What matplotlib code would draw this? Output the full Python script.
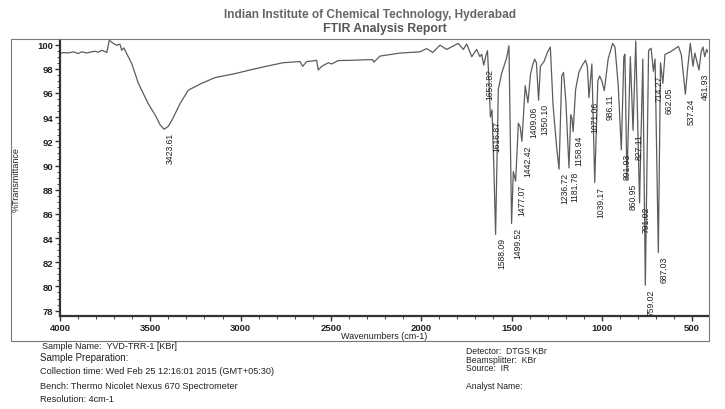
import matplotlib
matplotlib.use("Agg")
import matplotlib.pyplot as plt
from matplotlib.patches import Rectangle
from matplotlib.ticker import MultipleLocator

# ---------------- spectrum ----------------
wavenumber = [
    4000, 3982, 3954, 3926, 3899, 3880, 3852, 3825, 3806, 3788, 3769, 3751, 3741,
    3727, 3705, 3686, 3668, 3658, 3646, 3631, 3603, 3566, 3511, 3470, 3445, 3423.61,
    3400, 3375, 3336, 3290, 3215, 3142, 3031, 2948, 2860, 2765, 2671, 2656, 2634, 2600,
    2579, 2570, 2551, 2514, 2496, 2459, 2394, 2300, 2268, 2262, 2228, 2117, 2007,
    1970, 1936, 1896, 1859, 1795, 1767, 1748, 1720, 1693, 1675, 1665, 1653.82,
    1640, 1633, 1625, 1616.87, 1608, 1598, 1588.09, 1573, 1555, 1527, 1514,
    1499.52, 1490, 1477.07, 1462, 1452, 1442.42, 1424, 1409.06, 1395, 1385, 1372,
    1362, 1350.10, 1340, 1320, 1300, 1285, 1270, 1250, 1236.72, 1222, 1212, 1199,
    1181.78, 1172, 1165, 1158.94, 1145, 1127, 1108, 1090, 1080, 1071.06, 1055,
    1039.17, 1022, 1012, 1000, 986.11, 965, 950, 940, 927, 909, 891.93, 878, 872,
    860.95, 842, 827.11, 812, 791.02, 773, 759.02, 741, 727, 714.27, 705, 687.03,
    675, 662.05, 650, 620, 600, 576, 560, 537.24, 525, 510, 495, 485, 461.93, 450,
    440, 430, 420, 410,
]
transmittance = [
    99.25, 99.34, 99.31, 99.40, 99.26, 99.40, 99.31, 99.40, 99.45, 99.37, 99.53, 99.42, 99.34,
    100.36, 100.10, 99.95, 100.03, 99.53, 99.73, 99.26, 98.43, 96.80, 95.10, 94.10, 93.35, 93.00,
    93.25, 93.90, 95.10, 96.23, 96.80, 97.27, 97.60, 97.90, 98.20, 98.50, 98.60, 98.20, 98.60, 98.65,
    98.70, 97.90, 98.20, 98.50, 98.40, 98.68, 98.70, 98.75, 98.75, 98.55, 99.05, 99.30, 99.40,
    99.67, 99.35, 99.95, 99.60, 100.10, 99.60, 100.05, 99.00, 99.60, 99.00, 99.20, 98.30,
    99.20, 99.50, 97.00, 94.00, 94.60, 90.00, 84.30, 96.30, 97.60, 98.90, 99.90,
    85.20, 89.50, 88.70, 93.50, 93.20, 92.00, 96.60, 95.20, 97.50, 98.20, 98.80,
    98.50, 95.40, 98.20, 98.60, 99.40, 99.80, 95.00, 91.50, 89.70, 97.40, 97.70, 95.30,
    89.80, 94.20, 93.90, 92.80, 96.30, 97.70, 98.30, 98.70, 98.20, 95.60, 98.40,
    88.60, 97.00, 97.40, 97.00, 96.20, 98.80, 99.60, 100.10, 99.80, 96.60, 91.30, 99.00, 99.20,
    88.80, 99.00, 92.90, 100.30, 86.90, 98.80, 80.10, 99.50, 99.70, 97.80, 98.80, 82.80,
    98.50, 96.80, 99.20, 99.40, 99.60, 99.85, 99.20, 95.90, 98.00, 100.10, 98.20, 99.30, 97.90, 99.40,
    99.80, 99.00, 99.60, 99.30,
]

# labelled band positions (cm-1)
peak_wn = [
    3423.61, 1653.82, 1616.87, 1588.09, 1499.52, 1477.07, 1442.42, 1409.06,
    1350.10, 1236.72, 1181.78, 1158.94, 1071.06, 1039.17, 986.11, 891.93,
    860.95, 827.11, 791.02, 759.02, 714.27, 687.03, 662.05, 537.24, 461.93,
]

x_ticks = [4000, 3500, 3000, 2500, 2000, 1500, 1000, 500]
y_ticks = list(range(78, 101, 2))

header = ["Indian Institute of Chemical Technology, Hyderabad", "FTIR Analysis Report"]
info_left = [
    ("Sample Name:  YVD-TRR-1 [KBr]", 42, 347, 6.5),
    ("Sample Preparation:", 40, 358, 7.0),
    ("Collection time: Wed Feb 25 12:16:01 2015 (GMT+05:30)", 40, 372, 6.6),
    ("Bench: Thermo Nicolet Nexus 670 Spectrometer", 40, 387, 6.6),
    ("Resolution: 4cm-1", 40, 400, 6.6),
]
info_right = [
    ("Detector:  DTGS KBr", 466, 352),
    ("Beamsplitter:  KBr", 466, 360.5),
    ("Source:  IR", 466, 369),
    ("Analyst Name:", 466, 387),
]

plt.rcParams['font.family'] = ['Liberation Sans', 'DejaVu Sans']

W, H = 725, 410
fig = plt.figure(figsize=(W / 100, H / 100), dpi=100)
fig.patch.set_facecolor("white")

# axes box in pixel terms of the page
ax = fig.add_axes([60 / W, 1 - 316.7 / H, (708 - 60) / W, (316.7 - 41) / H])
ax.plot(wavenumber, transmittance, color="#5c5c5c", lw=0.9)
ax.set_xlim(4000, 412)
ax.set_ylim(77.58, 100.38)

ax.set_xticks(x_ticks)
ax.set_yticks(y_ticks)
ax.xaxis.set_minor_locator(MultipleLocator(100))
ax.yaxis.set_minor_locator(MultipleLocator(0.5))
ax.tick_params(which="major", direction="out", length=3.5, width=1, color="#333",
               labelsize=6.8, labelcolor="#222", pad=1.5)
ax.tick_params(which="minor", direction="out", length=2, width=0.7, color="#444")
for lab in ax.get_xticklabels() + ax.get_yticklabels():
    lab.set_fontweight("bold")

for s in ["top", "right"]:
    ax.spines[s].set_visible(False)
for s in ["left", "bottom"]:
    ax.spines[s].set_linewidth(1.6)
    ax.spines[s].set_color("#333")

# band labels
lookup = dict(zip(wavenumber, transmittance))
for w in peak_wn:
    ax.annotate(f"{w:.2f}", xy=(w, lookup[w]), xytext=(1.2, -2.2),
                textcoords="offset points", rotation=90, ha="left", va="top",
                fontsize=6.2, color="#222", annotation_clip=False)

# outer frame of the report
fig.add_artist(Rectangle((11 / W, 1 - 342 / H), (709 - 11) / W, (342 - 40) / H,
                         transform=fig.transFigure, fill=False, ec="#777", lw=0.8))

fig.text(384 / W, 1 - 336.5 / H, "Wavenumbers (cm-1)", ha="center", va="center",
         fontsize=6.5, color="#222")
fig.text(16 / W, 1 - 180 / H, "%Transmittance", rotation=90, ha="center", va="center",
         fontsize=6.5, color="#222")

fig.text(370 / W, 1 - 15 / H, header[0], ha="center", va="center", fontsize=8.6,
         fontweight="bold", color="#666")
fig.text(385 / W, 1 - 29 / H, header[1], ha="center", va="center", fontsize=8.8,
         fontweight="bold", color="#555")

for txt, x, y, fs in info_left:
    fig.text(x / W, 1 - y / H, txt, ha="left", va="center", fontsize=fs, color="#222")
for txt, x, y in info_right:
    fig.text(x / W, 1 - y / H, txt, ha="left", va="center", fontsize=6.2, color="#222")

fig.savefig("out.png", dpi=100)
